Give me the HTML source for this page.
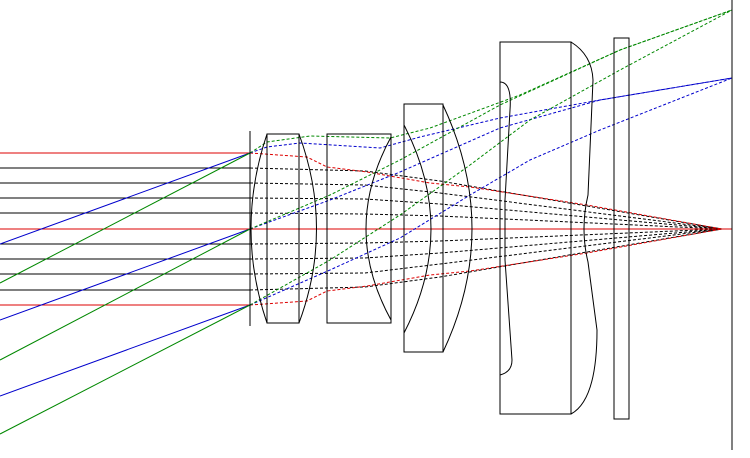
<!DOCTYPE html>
<html><head><meta charset="utf-8"><style>html,body{margin:0;padding:0;background:#fff}svg{display:block}</style></head>
<body>
<svg width="750" height="458" viewBox="0 0 750 458" xmlns="http://www.w3.org/2000/svg" fill="none" stroke-width="1">
<g stroke="#000">
<line x1="0" y1="168" x2="250" y2="168"/><line x1="0" y1="183" x2="250" y2="183"/>
<line x1="0" y1="198" x2="250" y2="198"/><line x1="0" y1="213" x2="250" y2="213"/>
<line x1="0" y1="244" x2="250" y2="244"/><line x1="0" y1="259" x2="250" y2="259"/>
<line x1="0" y1="274" x2="250" y2="274"/><line x1="0" y1="290" x2="250" y2="290"/>
</g>
<g stroke="#d00">
<line x1="0" y1="153" x2="250" y2="153"/><line x1="0" y1="229" x2="250" y2="229"/><line x1="0" y1="305" x2="250" y2="305"/>
</g>
<g stroke="#00c">
<line x1="0" y1="244" x2="250" y2="153"/><line x1="0" y1="320" x2="250" y2="229"/><line x1="0" y1="396" x2="250" y2="305"/>
</g>
<g stroke="#080">
<line x1="0" y1="283" x2="250" y2="153"/><line x1="0" y1="360" x2="250" y2="229"/><line x1="0" y1="434" x2="250" y2="305"/>
</g>
<g stroke="#000" stroke-dasharray="3 2">
<polyline points="250,168 365,171 440,181 722,229"/>
<polyline points="250,183 365,185 440,193 722,229"/>
<polyline points="250,198 365,199 440,204 722,229"/>
<polyline points="250,213 365,214 440,216 722,229"/>
<polyline points="250,244 365,243 440,241 722,229"/>
<polyline points="250,259 365,258 440,253 722,229"/>
<polyline points="250,274 365,273 440,264 722,229"/>
<polyline points="250,290 365,287 440,277 722,229"/>
</g>
<g stroke="#d00" stroke-dasharray="3 2">
<polyline points="250,153 307,157 327,167 367,172 430,183 470,187 587,205 722,229"/>
<line x1="250" y1="229" x2="732" y2="229" stroke-dasharray="none"/>
<polyline points="250,305 307,301 327,291 367,286 430,275 470,271 587,253 722,229"/>
</g>
<g stroke="#00c" stroke-dasharray="3 2">
<polyline points="250,153 267,147 300,143 380,148 420,137 500,118 600,100 732,78"/>
<polyline points="250,229 330,200 400,172 500,128 600,100 732,78"/>
<polyline points="250,305 330,270 400,238 470,195 530,160 600,130 732,78"/>
</g>
<g stroke="#080" stroke-dasharray="3 2">
<polyline points="250,153 267,142 310,136 390,138 430,128 520,95 620,50 732,10"/>
<polyline points="250,229 330,195 400,160 500,105 620,50 732,10"/>
<polyline points="250,305 330,260 400,215 470,165 530,120 620,70 732,10"/>
</g>
<g stroke="#000">
<line x1="250" y1="131" x2="250" y2="326"/>
<rect x="267" y="134" width="32" height="189"/>
<path d="M267,134 Q235,229 267,323"/>
<path d="M299,134 Q334,229 299,323"/>
<rect x="327" y="134" width="64" height="189"/>
<path d="M391,137 Q341,229 391,320"/>
<rect x="404" y="104" width="39" height="248"/>
<path d="M404,125 Q458,229 404,333"/>
<path d="M443,105 Q501,229 443,352"/>
<rect x="500" y="42" width="71" height="372"/>
<path d="M500,82 Q512,82 510,110 L505,200 L505,260 L512,360 Q512,372 500,375"/>
<path d="M571,42 Q592,55 593,80 L588,195 Q580,229 588,262 L597,330 Q597,400 571,414"/>
<rect x="614" y="38" width="15" height="381"/>
<line x1="732" y1="0" x2="732" y2="450"/>
</g>
</svg>
</body></html>
